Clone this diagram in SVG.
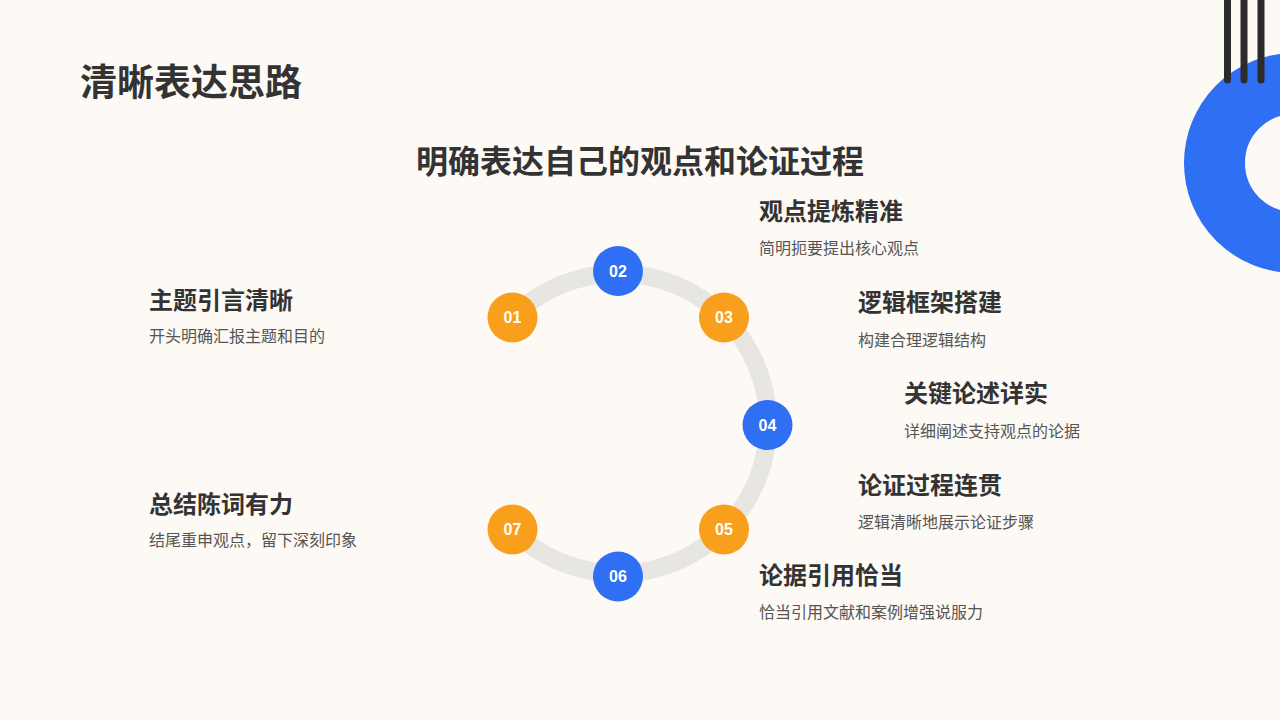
<svg xmlns="http://www.w3.org/2000/svg" width="1280" height="720" viewBox="0 0 1280 720">
<style>
.h{font-family:"Noto Sans CJK SC","Noto Sans",sans-serif;font-weight:700;fill:#333333;dominant-baseline:central}
.s{font-family:"Noto Sans CJK SC","Noto Sans",sans-serif;font-size:16px;fill:#555555;dominant-baseline:central}
.n{font-family:"Liberation Sans",Arial,sans-serif;font-weight:700;font-size:16px;fill:#ffffff;text-anchor:middle;dominant-baseline:central}
.o{fill:#f89f1b}
.b{fill:#2f6ff3}
</style>
<rect width="1280" height="720" fill="#fdf9f4"/>
<g id="decoration">
<circle cx="1294" cy="163" r="79.5" fill="none" stroke="#2f6ff3" stroke-width="61"/>
<g stroke="#2b2b2b" stroke-width="7" stroke-linecap="round">
<line x1="1227.5" y1="-10" x2="1227.5" y2="80"/>
<line x1="1244" y1="-10" x2="1244" y2="80"/>
<line x1="1261" y1="-10" x2="1261" y2="80"/>
</g>
</g>
<text class="h" x="80" y="80" font-size="37">清晰表达思路</text>
<text class="h" x="640" y="159" font-size="32" text-anchor="middle">明确表达自己的观点和论证过程</text>
<g id="connectors">
<path d="M 512 529.5 A 150 150 0 1 0 512 317.5" fill="none" stroke="#e8e6e3" stroke-width="18"/>
</g>
<g id="n01"><circle class="o" cx="512.5" cy="317.5" r="25"/><text class="n" x="512.5" y="317.5">01</text></g>
<g id="n02"><circle class="b" cx="618" cy="271" r="25"/><text class="n" x="618" y="271">02</text></g>
<g id="n03"><circle class="o" cx="724" cy="317.5" r="25"/><text class="n" x="724" y="317.5">03</text></g>
<g id="n04"><circle class="b" cx="767.5" cy="425" r="25"/><text class="n" x="767.5" y="425">04</text></g>
<g id="n05"><circle class="o" cx="724" cy="529.5" r="25"/><text class="n" x="724" y="529.5">05</text></g>
<g id="n06"><circle class="b" cx="618" cy="576.5" r="25"/><text class="n" x="618" y="576.5">06</text></g>
<g id="n07"><circle class="o" cx="512.5" cy="529.5" r="25"/><text class="n" x="512.5" y="529.5">07</text></g>
<g id="t01"><text class="h" x="149" y="298" font-size="24">主题引言清晰</text><text class="s" x="149" y="334.5">开头明确汇报主题和目的</text></g>
<g id="t02"><text class="h" x="759" y="209.5" font-size="24">观点提炼精准</text><text class="s" x="759" y="246.5">简明扼要提出核心观点</text></g>
<g id="t03"><text class="h" x="858" y="300.5" font-size="24">逻辑框架搭建</text><text class="s" x="858" y="338.5">构建合理逻辑结构</text></g>
<g id="t04"><text class="h" x="904" y="391.5" font-size="24">关键论述详实</text><text class="s" x="904" y="429.5">详细阐述支持观点的论据</text></g>
<g id="t05"><text class="h" x="858" y="483" font-size="24">论证过程连贯</text><text class="s" x="858" y="520.5">逻辑清晰地展示论证步骤</text></g>
<g id="t06"><text class="h" x="759" y="573" font-size="24">论据引用恰当</text><text class="s" x="759" y="610.5">恰当引用文献和案例增强说服力</text></g>
<g id="t07"><text class="h" x="149" y="502" font-size="24">总结陈词有力</text><text class="s" x="149" y="538.5">结尾重申观点，留下深刻印象</text></g>
</svg>
